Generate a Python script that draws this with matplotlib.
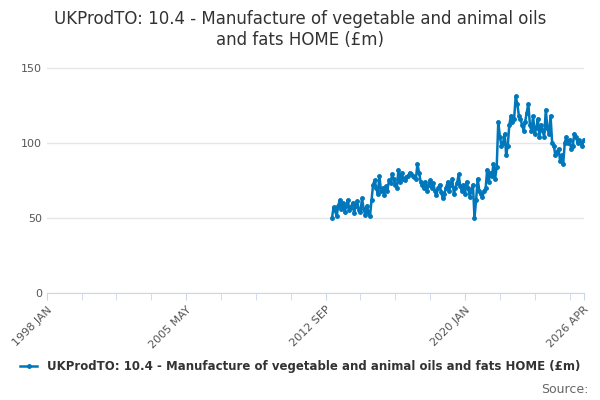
import matplotlib
matplotlib.use("Agg")
import matplotlib.pyplot as plt
import pandas as pd

VALUES = [
    50, 57, 55, 51, 58, 62, 56, 60, 54, 58, 62, 55,
    57, 60, 53, 58, 61, 55, 54, 63, 56, 52, 58, 54,
    51, 62, 72, 75, 70, 66, 78, 68, 70, 65, 71, 68,
    75, 73, 79, 76, 72, 70, 82, 74, 80, 76, 75, 77,
    78, 80, 79, 78, 77, 76, 86, 80, 74, 72, 70, 74,
    68, 72, 75, 70, 73, 68, 65, 70, 72, 67, 63, 66,
    70, 74, 68, 72, 76, 66, 70, 73, 79, 71, 68, 72,
    66, 74, 70, 64, 68, 72, 50, 62, 76, 68, 66, 64,
    68, 70, 82, 74, 80, 78, 86, 76, 84, 114, 104, 98,
    100, 106, 92, 98, 112, 118, 114, 116, 131, 126, 118, 116,
    112, 108, 114, 120, 126, 112, 108, 118, 106, 110, 116, 104,
    112, 108, 104, 122, 110, 106, 118, 100, 98, 92, 94, 96,
    88, 92, 86, 100, 104, 100, 102, 96, 98, 106, 104, 100,
    102, 100, 98, 102,
]
DATES = pd.date_range("2013-01-01", periods=len(VALUES), freq="MS")
TICK_DATES = pd.to_datetime(["1998-01-01", "2005-05-01", "2012-09-01", "2020-01-01", "2026-04-01"])
TICK_LABELS = ["1998 JAN", "2005 MAY", "2012 SEP", "2020 JAN", "2026 APR"]
LABEL = "UKProdTO: 10.4 - Manufacture of vegetable and animal oils and fats HOME (£m)"

fig = plt.figure(figsize=(6, 4), dpi=100)
ax = fig.add_axes([0.078, 0.268, 0.895, 0.6])
color = "#0077bb"
ax.plot(DATES, VALUES, color=color, lw=1.8, marker="o", ms=2.5, label=LABEL)
ax.set_xlim(TICK_DATES[0], TICK_DATES[-1])
ax.set_ylim(0, 160)
ax.set_yticks([0, 50, 100, 150])
ax.set_xticks(TICK_DATES)
ax.set_xticklabels(TICK_LABELS, rotation=45, ha="right", rotation_mode="anchor")
minor = pd.date_range("1998-01-01", "2026-04-01", freq="22MS")
ax.set_xticks(minor, minor=True)
ax.grid(axis="y", color="#e6e6e6", lw=1)
for s in ["top", "right", "left"]:
    ax.spines[s].set_visible(False)
ax.spines["bottom"].set_color("#ccd6eb")
ax.tick_params(axis="y", length=0, labelsize=8, colors="#555555")
ax.tick_params(axis="x", which="both", length=5, color="#ccd6eb", labelsize=8, labelcolor="#555555")
fig.text(0.5, 0.975, "UKProdTO: 10.4 - Manufacture of vegetable and animal oils\nand fats HOME (£m)",
         ha="center", va="top", fontsize=12, color="#333333")
fig.legend(loc="lower center", bbox_to_anchor=(0.5, 0.04), frameon=False,
           prop={"size": 8.5, "weight": "bold"}, handlelength=1.5, labelcolor="#333333")
fig.text(0.98, 0.01, "Source:", ha="right", va="bottom", fontsize=9, color="#666666")
fig.savefig("out.png")
